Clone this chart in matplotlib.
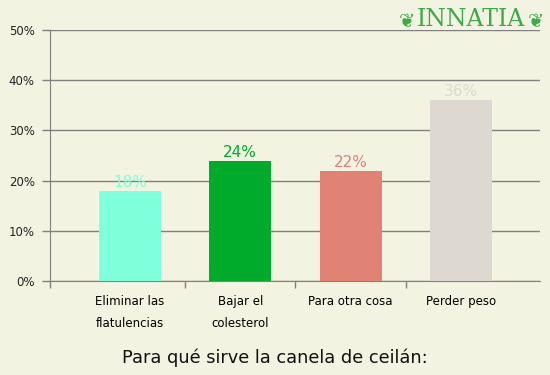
import numpy as np
import matplotlib.pyplot as plt

categorias = ['Eliminar las\nflatulencias', 'Bajar el\ncolesterol', 'Para otra cosa', 'Perder peso']
valores = [18, 24, 22, 36]
colores = ['#80ffdb', '#00aa2b', '#e08274', '#ddd8d1']
yticks = [0, 10, 20, 30, 40, 50]
titulo = 'Para qué sirve la canela de ceilán:'

fondo = '#f3f3e1'
gris = '#808080'

fig = plt.figure(figsize=(5.5, 3.75), dpi=100, facecolor=fondo)
ax = fig.add_axes([50/550, 1 - 281/375, 490/550, 251/375])
ax.set_facecolor(fondo)

x = np.arange(len(categorias))
ax.bar(x, valores, width=0.56, color=colores, zorder=3)

# etiquetas de valor encima de cada barra
for xi, v, c in zip(x, valores, colores):
    ax.text(xi, v + 0.2, f'{v}%', ha='center', va='bottom', fontsize=11,
            color=c, zorder=4)

ax.set_xlim(-0.724, 3.715)
ax.set_ylim(0, 50)
ax.set_yticks(yticks)
ax.set_yticklabels([f'{t}%' for t in yticks], fontsize=8.5)
ax.yaxis.grid(True, color=gris, linewidth=1, zorder=0)

ax.set_xticks([-0.724, 0.5, 1.5, 2.5])
ax.set_xticklabels([])
for xi, lab in zip(x, categorias):
    ax.text(xi, -2.7, lab, ha='center', va='top', fontsize=8.5,
            linespacing=1.95)

ax.tick_params(axis='both', colors=gris, length=5, width=1, labelcolor='#222222')
ax.tick_params(axis='y', pad=5, length=6)
for s in ['top', 'right']:
    ax.spines[s].set_visible(False)
for s in ['left', 'bottom']:
    ax.spines[s].set_color(gris)

fig.text(0.5, 1 - 358/375, titulo, ha='center', va='center', fontsize=12.8,
         color='#111111')

# logo
fig.text(471/550, 1 - 20/375, 'INNATIA', ha='center', va='center',
         fontsize=17, family='DejaVu Serif', color='#3daa4a')
fig.text(407/550, 1 - 22/375, '❦', ha='center', va='center', fontsize=14,
         color='#3daa4a')
fig.text(536/550, 1 - 22/375, '❦', ha='center', va='center', fontsize=14,
         color='#3daa4a')

fig.savefig('out.png', dpi=100, facecolor=fondo)
